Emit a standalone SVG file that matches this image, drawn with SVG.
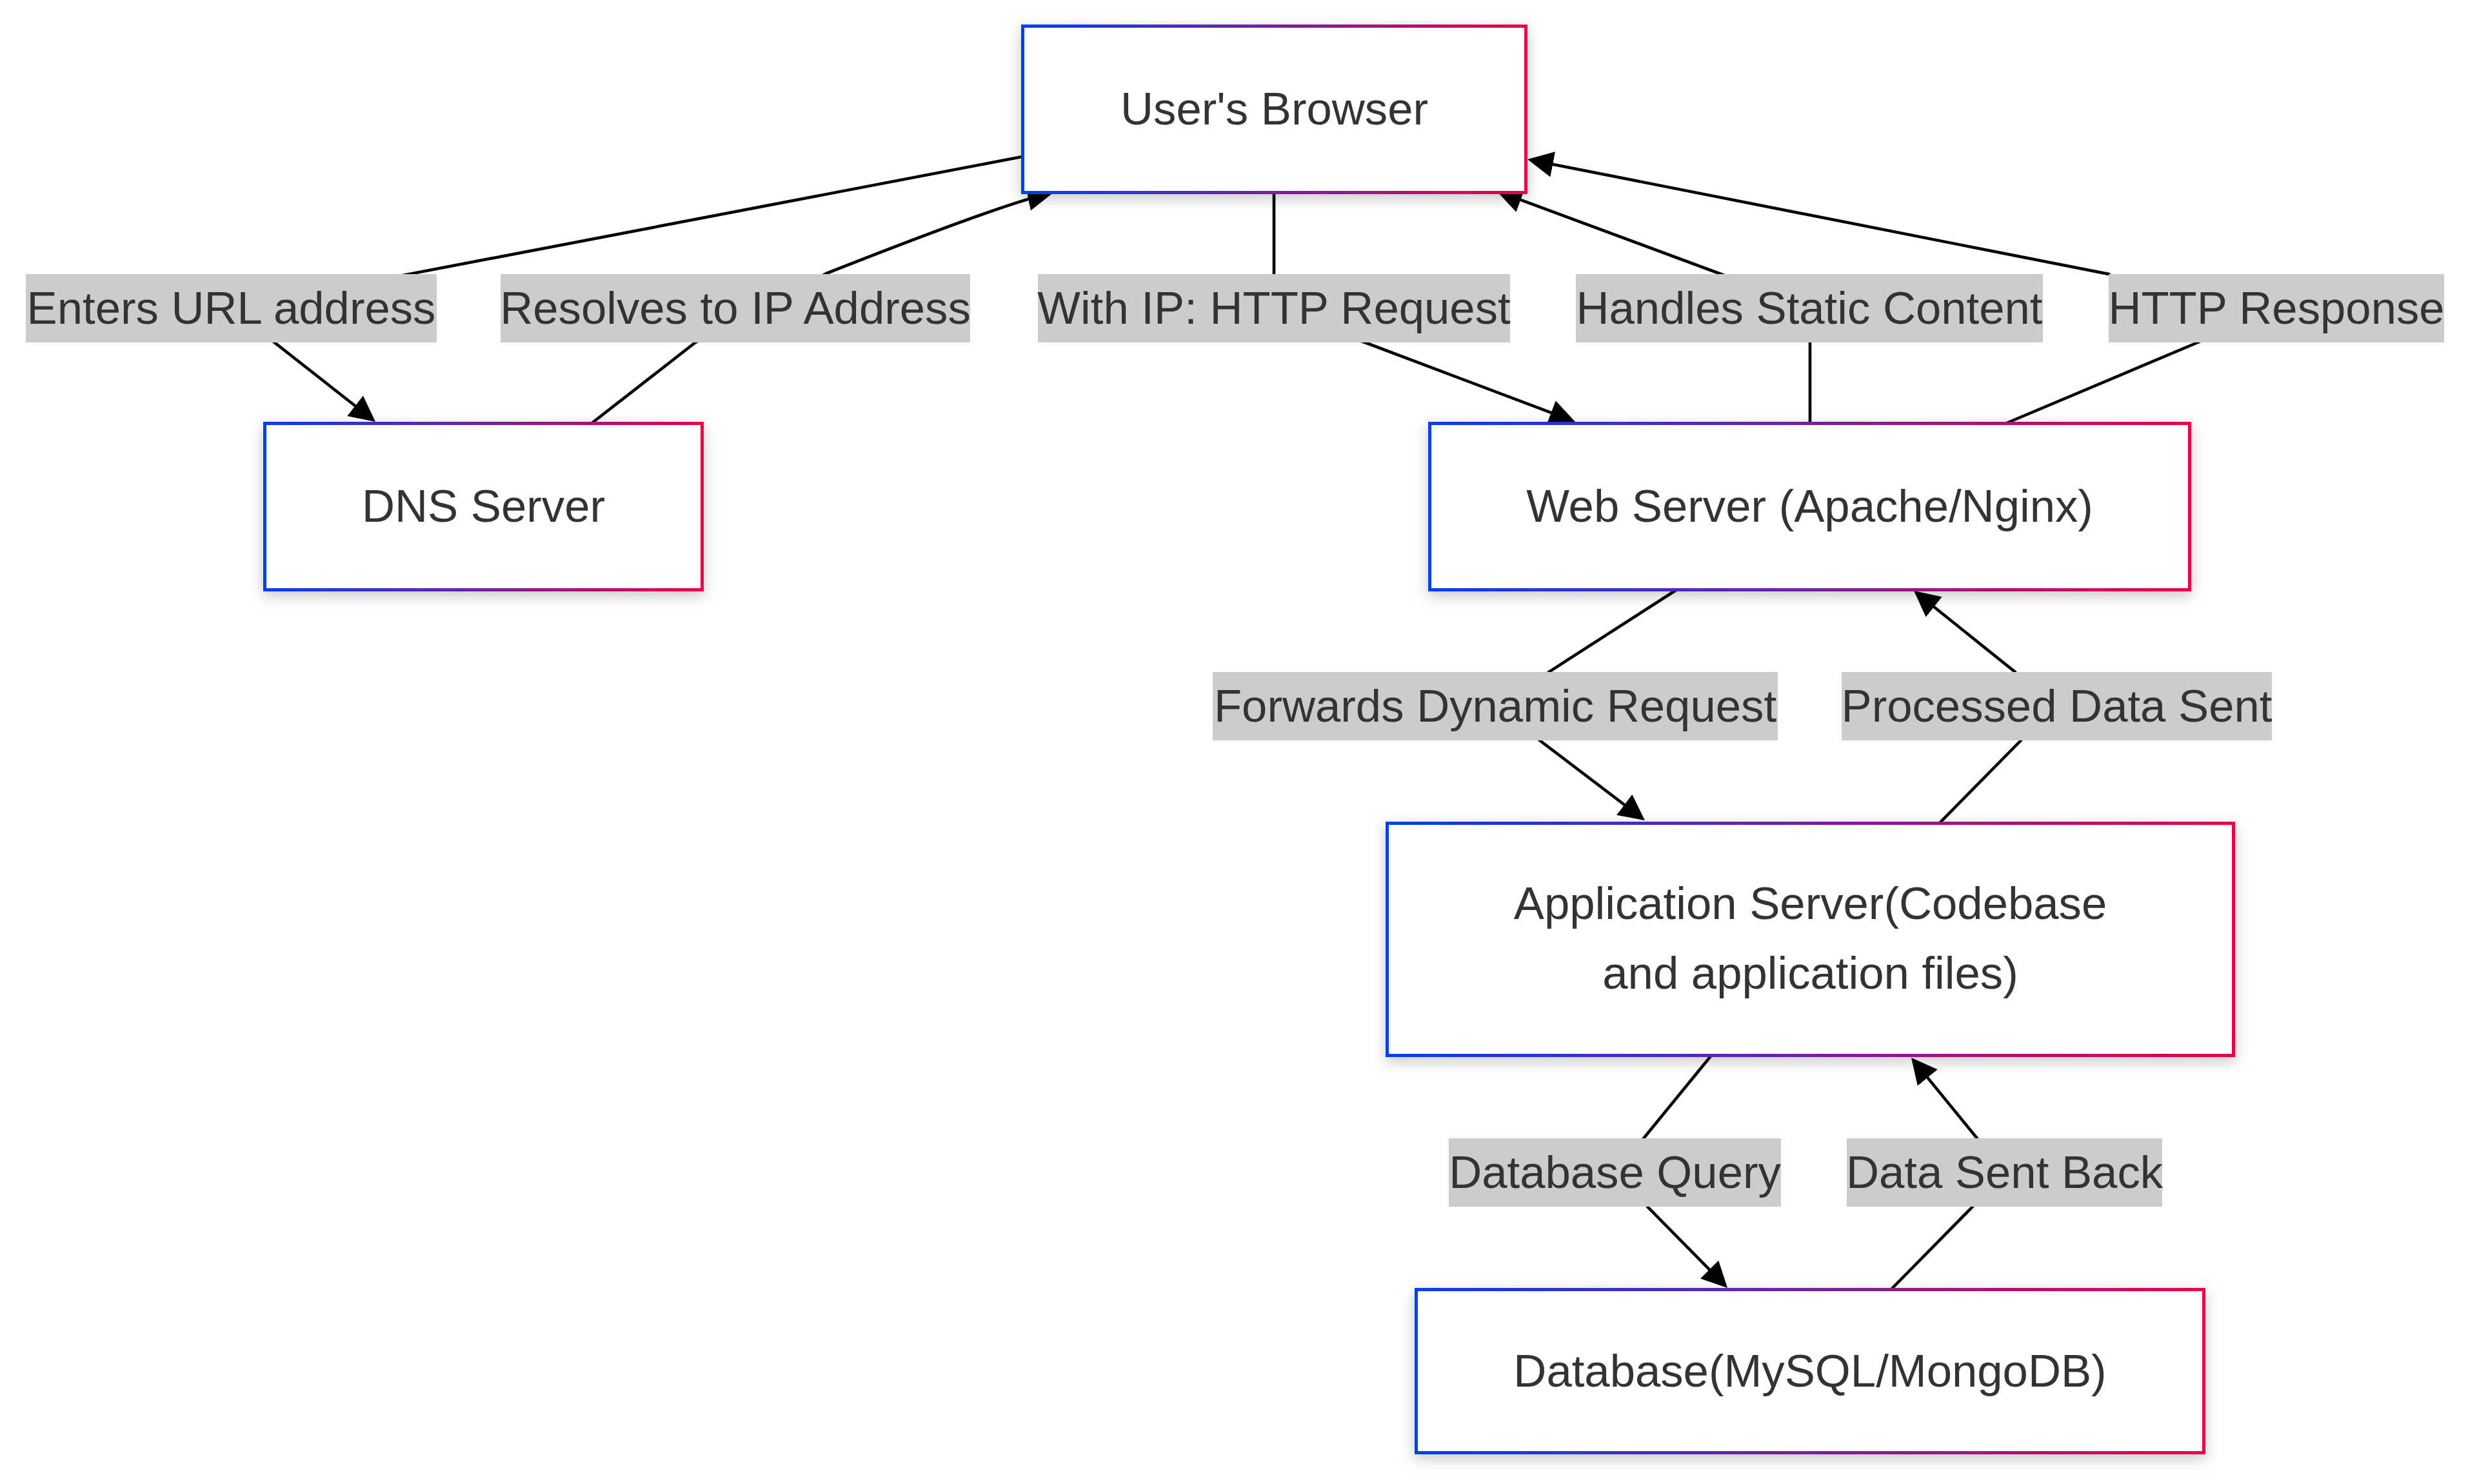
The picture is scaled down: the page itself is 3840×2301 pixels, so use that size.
<svg xmlns="http://www.w3.org/2000/svg" width="3840" height="2301" viewBox="0 0 3840 2301">
<style>
.edge{fill:none;stroke:#000;stroke-width:4.6;marker-end:url(#arrow)}
.node rect{fill:#fff;stroke:url(#grad);stroke-width:5;filter:url(#shadow)}
.lbl rect{fill:#cccccc}
text{font-family:"Liberation Sans",Arial,sans-serif;font-size:70.7px;fill:#333;text-anchor:middle}
</style>
<defs>
<linearGradient id="grad" x1="0" y1="0" x2="1" y2="0">
<stop offset="0" stop-color="#0040f5"/>
<stop offset="1" stop-color="#eb0048"/>
</linearGradient>
<filter id="shadow" x="-20%" y="-30%" width="140%" height="160%">
<feDropShadow dx="0" dy="7" stdDeviation="11" flood-color="#000" flood-opacity="0.22"/>
</filter>
<marker id="arrow" viewBox="0 0 10 10" refX="8.5" refY="5" markerWidth="40" markerHeight="40" markerUnits="userSpaceOnUse" orient="auto">
<path d="M0,0 L10,5 L0,10 z" fill="#000"/>
</marker>
</defs>
<rect width="3840" height="2301" fill="#fff"/>
<g id="connectors">
<path class="edge" d="M1595,241 L358,478 L577.3,650.3"/>
<path class="edge" d="M915,658 L1078,531 L1281,424 Q1560,314 1627,300"/>
<path class="edge" d="M1975,295 L1975,478 L2116,531 L2436.4,651.9"/>
<path class="edge" d="M2806,660 L2806,478 L2668,425 L2325.6,298.1"/>
<path class="edge" d="M3106,658 L3407,531 L3269,425 L2373.9,248.2"/>
<path class="edge" d="M2603,912 L2401,1042 L2387,1148 L2545.2,1268.4"/>
<path class="edge" d="M3005,1278 L3133,1148 L3124,1042 L2971.7,919.8"/>
<path class="edge" d="M2655,1634 L2548,1765 L2554,1871 L2673.8,1992.7"/>
<path class="edge" d="M2930,2001 L3058,1871 L3065,1765 L2966.8,1644.6"/>
</g>
<g id="edge-labels">
<g class="lbl"><rect x="40" y="425" width="637" height="106"/><text x="358.5" y="502">Enters URL address</text></g>
<g class="lbl"><rect x="776" y="425" width="728" height="106"/><text x="1140" y="502">Resolves to IP Address</text></g>
<g class="lbl"><rect x="1609" y="425" width="732" height="106"/><text x="1975" y="502">With IP: HTTP Request</text></g>
<g class="lbl"><rect x="2443" y="425" width="724" height="106"/><text x="2805" y="502">Handles Static Content</text></g>
<g class="lbl"><rect x="3269" y="425" width="520" height="106"/><text x="3529" y="502">HTTP Response</text></g>
<g class="lbl"><rect x="1880" y="1042" width="876" height="106"/><text x="2318" y="1119">Forwards Dynamic Request</text></g>
<g class="lbl"><rect x="2855" y="1042" width="667" height="106"/><text x="3188.5" y="1119">Processed Data Sent</text></g>
<g class="lbl"><rect x="2246" y="1765" width="515" height="106"/><text x="2503.5" y="1842">Database Query</text></g>
<g class="lbl"><rect x="2863" y="1765" width="489" height="106"/><text x="3107.5" y="1842">Data Sent Back</text></g>
</g>
<g id="node-browser" class="node"><rect x="1585.5" y="40.5" width="780" height="258"/><text x="1975.5" y="193">User's Browser</text></g>
<g id="node-dns" class="node"><rect x="410.5" y="656.5" width="678" height="258"/><text x="749.5" y="809">DNS Server</text></g>
<g id="node-web" class="node"><rect x="2216.5" y="656.5" width="1178" height="258"/><text x="2805.5" y="809">Web Server (Apache/Nginx)</text></g>
<g id="node-app" class="node"><rect x="2150.5" y="1276.5" width="1312" height="360"/><text x="2806.5" y="1425">Application Server(Codebase</text><text x="2806.5" y="1533">and application files)</text></g>
<g id="node-db" class="node"><rect x="2195.5" y="1999.5" width="1221" height="253"/><text x="2806" y="2150">Database(MySQL/MongoDB)</text></g>
</svg>
